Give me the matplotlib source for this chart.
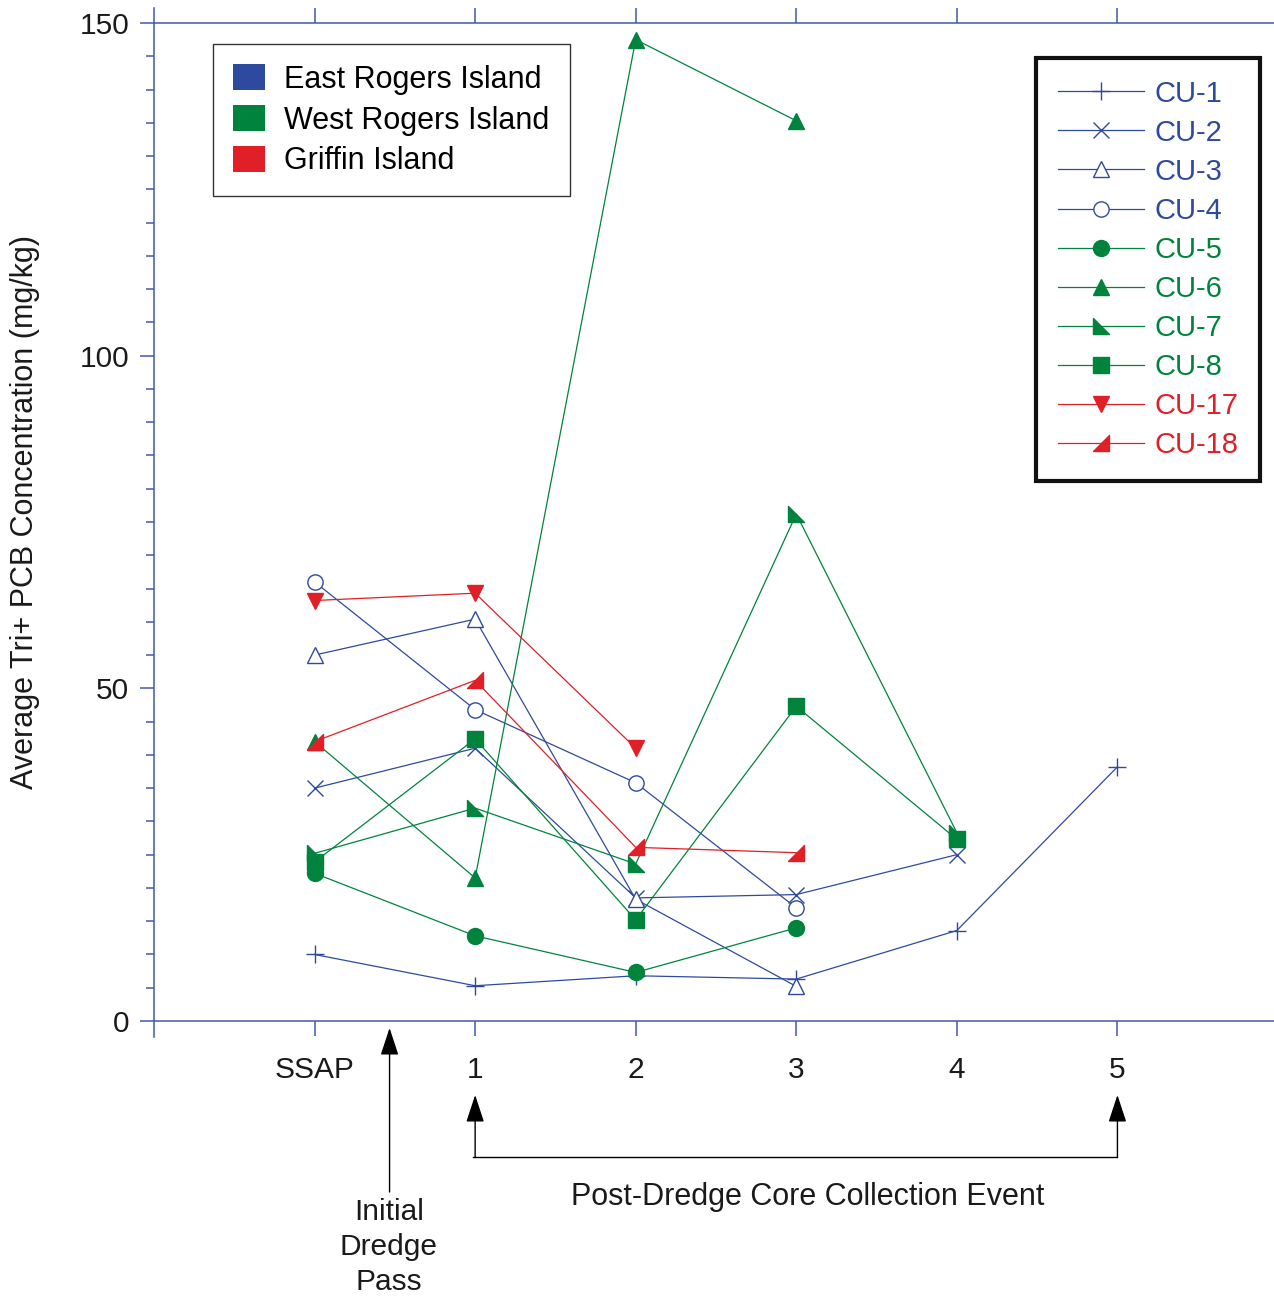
import matplotlib
matplotlib.use('Agg')
import matplotlib.pyplot as plt
import matplotlib.transforms as mtransforms
from matplotlib.path import Path
from matplotlib.patches import Patch
from matplotlib.lines import Line2D

plt.rcParams['font.family'] = ['Liberation Sans', 'DejaVu Sans']

# ---------------- data ----------------
events = ['SSAP', '1', '2', '3', '4', '5']
cu1 = [10.0, 5.3, 6.8, 6.3, 13.6, 38.2]
cu2 = [35.0, 41.0, 18.5, 19.0, 25.0]
cu3 = [55.0, 60.4, 18.3, 5.2]
cu4 = [66.0, 46.8, 35.8, 17.0]
cu5 = [22.2, 12.8, 7.3, 14.0]
cu6 = [42.0, 21.5, 147.5, 135.3]
cu7 = [25.2, 32.0, 23.6, 76.2, 28.3]
cu8 = [23.9, 42.4, 15.2, 47.3, 27.3]
cu17 = [63.2, 64.3, 41.0]
cu18 = [42.0, 51.2, 26.1, 25.3]
series_names = ['CU-1', 'CU-2', 'CU-3', 'CU-4', 'CU-5', 'CU-6', 'CU-7', 'CU-8', 'CU-17', 'CU-18']
series_vals = [cu1, cu2, cu3, cu4, cu5, cu6, cu7, cu8, cu17, cu18]
groups = ['East Rogers Island', 'West Rogers Island', 'Griffin Island']

BLUE = '#2e4a9e'
GREEN = '#00843d'
RED = '#e01f26'
AX = '#4257ad'

tri_ll = Path([(-1, 1), (-1, -1), (1, -1), (-1, 1)], [1, 2, 2, 79])   # ◣
tri_lr = Path([(1, 1), (1, -1), (-1, -1), (1, 1)], [1, 2, 2, 79])     # ◢

styles = [
    dict(color=BLUE, marker='+', ms=13, mew=1.0),
    dict(color=BLUE, marker='x', ms=11, mew=1.0),
    dict(color=BLUE, marker='^', ms=11, mfc='white', mew=1.0),
    dict(color=BLUE, marker='o', ms=11, mfc='white', mew=1.0),
    dict(color=GREEN, marker='o', ms=11.5),
    dict(color=GREEN, marker='^', ms=12),
    dict(color=GREEN, marker=tri_ll, ms=12),
    dict(color=GREEN, marker='s', ms=11.5),
    dict(color=RED, marker='v', ms=12),
    dict(color=RED, marker=tri_lr, ms=12),
]

W, H = 1274, 1297
fig = plt.figure(figsize=(W / 100, H / 100), dpi=100)
ax = fig.add_axes([154 / W, 1 - 1021 / H, 1124 / W, 998 / H])

handles = []
for name, vals, st in zip(series_names, series_vals, styles):
    x = list(range(len(vals)))
    kw = dict(st)
    kw.setdefault('mec', kw['color'])
    kw.setdefault('mfc', kw['color'])
    ln, = ax.plot(x, vals, lw=0.9, label=name, zorder=3, **kw)
    handles.append(ln)

ax.set_xlim(-1, 6)
ax.set_ylim(0, 150)
ax.set_xticks(range(len(events)))
ax.set_xticklabels(events)
ax.set_yticks([0, 50, 100, 150])
ax.set_yticks(range(0, 151, 5), minor=True)

ax.spines['right'].set_visible(False)
for s in ['left', 'top', 'bottom']:
    ax.spines[s].set_color(AX)
    ax.spines[s].set_linewidth(1.1)
ax.spines['left'].set_bounds(-2.4, 152.3)
ax.spines['left'].set_clip_on(False)

ax.tick_params(axis='both', which='both', colors=AX, labelcolor='#1a1a1a', labelsize=21.5, width=1.1)
ax.tick_params(axis='x', which='major', direction='out', length=11, pad=14, top=True, bottom=True)
ax.tick_params(axis='y', which='major', direction='out', length=10, pad=8)
ax.tick_params(axis='y', which='minor', direction='out', length=6)
ax.tick_params(axis='x', which='minor', bottom=False, top=False)

ax.set_ylabel('Average Tri+ PCB Concentration (mg/kg)', fontsize=22, color='#1a1a1a')
ax.yaxis.set_label_coords(-0.1015, 0.51)

# legend of groups
gh = [Patch(facecolor=c, edgecolor='none') for c in [BLUE, GREEN, RED]]
leg1 = ax.legend(gh, groups, loc='upper left', bbox_to_anchor=(0.0525, 0.979), borderaxespad=0,
                 fontsize=22, handlelength=1.05, handleheight=0.95, handletextpad=0.62,
                 labelspacing=0.33, borderpad=0.66, fancybox=False, framealpha=1,
                 edgecolor='#333333')
leg1.get_frame().set_linewidth(1.0)
ax.add_artist(leg1)

leg2 = ax.legend(handles, series_names, loc='upper right', bbox_to_anchor=(0.984, 0.965), borderaxespad=0,
                 fontsize=21, handlelength=2.95, handletextpad=0.36, labelspacing=0.38,
                 borderpad=0.74, fancybox=False, framealpha=1, edgecolor='#111111')
leg2.get_frame().set_linewidth(3.0)
for t, st in zip(leg2.get_texts(), styles):
    t.set_color(st['color'])

# annotations below the axis
bt = mtransforms.blended_transform_factory(ax.transData, fig.transFigure)
def fy(py):
    return 1 - py / H

aprops = dict(arrowstyle='-|>,head_length=0.85,head_width=0.28', mutation_scale=20,
              color='black', lw=1.0, shrinkA=0, shrinkB=0)
x_init = (390 - 315) / 160.6
ax.annotate('', xy=(x_init, fy(1028)), xycoords=bt, xytext=(x_init, fy(1192)), textcoords=bt,
            arrowprops=aprops, annotation_clip=False)
ax.text(x_init - 0.005, fy(1247), 'Initial\nDredge\nPass', transform=bt, ha='center', va='center',
        fontsize=21.5, linespacing=1.3, color='#1a1a1a')

for xv in [1, 5]:
    ax.annotate('', xy=(xv, fy(1095)), xycoords=bt, xytext=(xv, fy(1157)), textcoords=bt,
                arrowprops=aprops, annotation_clip=False)
fig.add_artist(Line2D([0.985, 5], [fy(1157), fy(1157)], transform=bt, color='black', lw=1.0))
ax.text(3.07, fy(1197), 'Post-Dredge Core Collection Event', transform=bt, ha='center', va='center',
        fontsize=22, color='#1a1a1a')

fig.savefig('out.png', dpi=100)
